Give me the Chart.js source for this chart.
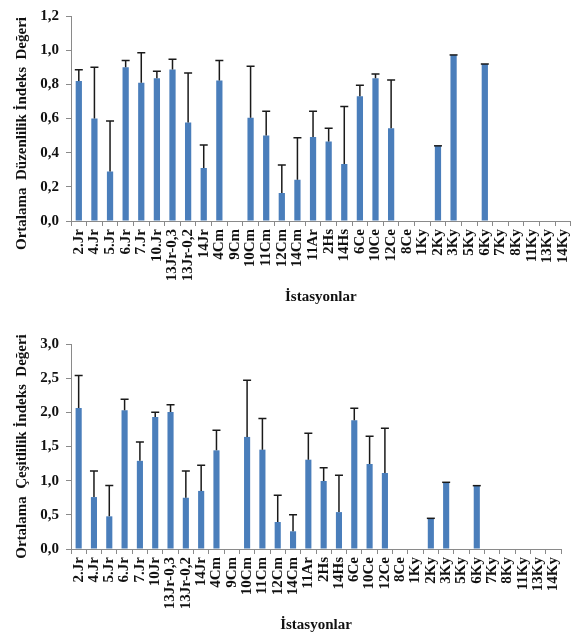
<!DOCTYPE html>
<html lang="tr">
<head>
    <meta charset="UTF-8">
    <title>Düzenlilik ve Çeşitlilik İndeksleri</title>
    <script src="https://cdn.jsdelivr.net/npm/chart.js"></script>
    <style>
        body { margin: 0; background: #fff; }
        .box { position: absolute; left: 0; width: 584px; }
        #topBox { top: 0; height: 306px; }
        #bottomBox { top: 318px; height: 316px; }
    </style>
</head>
<body>
    <div id="topBox" class="box"><canvas id="evennessChart"></canvas></div>
    <div id="bottomBox" class="box"><canvas id="diversityChart"></canvas></div>

    <script>
        // Stations (x categories)
        const stationsTop = ['2.Jr', '4.Jr', '5.Jr', '6.Jr', '7.Jr', '10.Jr', '13Jr-0,3', '13Jr-0,2', '14Jr', '4Cm', '9Cm',
            '10Cm', '11Cm', '12Cm', '14Cm', '11Ar', '2Hs', '14Hs', '6Ce', '10Ce', '12Ce', '8Ce',
            '1Ky', '2Ky', '3Ky', '5Ky', '6Ky', '7Ky', '8Ky', '11Ky', '13Ky', '14Ky'];
        const stationsBottom = ['2.Jr', '4.Jr', '5.Jr', '6.Jr', '7.Jr', '10Jr', '13Jr-0,3', '13Jr-0,2', '14Jr', '4Cm', '9Cm',
            '10Cm', '11Cm', '12Cm', '14Cm', '11Ar', '2Hs', '14Hs', '6Ce', '10Ce', '12Ce', '8Ce',
            '1Ky', '2Ky', '3Ky', '5Ky', '6Ky', '7Ky', '8Ky', '11Ky', '13Ky', '14Ky'];

        // Mean evenness index + standard deviation
        const evenness = [0.82, 0.60, 0.29, 0.90, 0.81, 0.835, 0.887, 0.577, 0.31, 0.823, 0,
            0.604, 0.50, 0.164, 0.242, 0.492, 0.466, 0.334, 0.73, 0.836, 0.543, 0,
            0, 0.44, 0.972, 0, 0.919, 0, 0, 0, 0, 0];
        const evennessSd = [0.065, 0.30, 0.295, 0.04, 0.175, 0.042, 0.06, 0.289, 0.135, 0.117, 0,
            0.302, 0.142, 0.164, 0.245, 0.151, 0.077, 0.336, 0.064, 0.024, 0.283, 0,
            0, 0, 0, 0, 0, 0, 0, 0, 0, 0];

        // Mean diversity index + standard deviation
        const diversity = [2.063, 0.76, 0.478, 2.03, 1.29, 1.93, 2.005, 0.75, 0.85, 1.444, 0,
            1.64, 1.454, 0.395, 0.259, 1.307, 0.995, 0.54, 1.883, 1.244, 1.112, 0,
            0, 0.449, 0.976, 0, 0.927, 0, 0, 0, 0, 0];
        const diversitySd = [0.477, 0.38, 0.452, 0.16, 0.276, 0.07, 0.105, 0.39, 0.374, 0.293, 0,
            0.83, 0.456, 0.39, 0.241, 0.386, 0.195, 0.538, 0.177, 0.405, 0.654, 0,
            0, 0, 0, 0, 0, 0, 0, 0, 0, 0];

        const barColor = '#4a7ebb';
        const axisColor = '#8a8a8a';
        const serif = { family: "'Liberation Serif', 'Times New Roman', serif", weight: 'bold', size: 15 };

        // draws the vertical error line + cap on top of each bar
        const errorBars = {
            id: 'errorBars',
            afterDatasetsDraw(chart, args, opts) {
                const ctx = chart.ctx;
                const yScale = chart.scales.y;
                const meta = chart.getDatasetMeta(0);
                ctx.save();
                ctx.strokeStyle = '#1a1a1a';
                ctx.lineWidth = 1.5;
                opts.values.forEach((v, i) => {
                    if (!v) return;
                    const px = meta.data[i].x;
                    const yTop = yScale.getPixelForValue(v + (opts.sd[i] || 0));
                    const yBar = yScale.getPixelForValue(v);
                    ctx.beginPath();
                    ctx.moveTo(px, yBar);
                    ctx.lineTo(px, yTop);
                    ctx.moveTo(px - 4, yTop);
                    ctx.lineTo(px + 4, yTop);
                    ctx.stroke();
                });
                ctx.restore();
            }
        };

        function makeChart(canvasId, labels, values, sd, yMax, step, yTitle, pad) {
            return new Chart(document.getElementById(canvasId), {
                type: 'bar',
                data: {
                    labels: labels,
                    datasets: [{
                        data: values,
                        backgroundColor: barColor,
                        borderWidth: 0,
                        barPercentage: 0.4,
                        categoryPercentage: 1.0
                    }]
                },
                options: {
                    responsive: true,
                    maintainAspectRatio: false,
                    animation: false,
                    layout: { padding: { top: pad.top, right: pad.right, left: 0, bottom: 0 } },
                    plugins: {
                        legend: { display: false },
                        tooltip: { enabled: false },
                        errorBars: { values: values, sd: sd }
                    },
                    scales: {
                        x: {
                            afterFit(scale) { scale.height = 85; },
                            grid: { drawOnChartArea: false, offset: true, tickLength: 5, color: axisColor },
                            border: { color: axisColor },
                            ticks: {
                                autoSkip: false, maxRotation: 90, minRotation: 90, padding: 3,
                                color: '#111', font: serif
                            },
                            title: {
                                display: true, text: 'İstasyonlar', color: '#111',
                                font: serif, padding: { top: 0, bottom: 0 }
                            }
                        },
                        y: {
                            min: 0, max: yMax,
                            afterFit(scale) { scale.width = 71; },
                            grid: { drawOnChartArea: false, tickLength: 5, color: axisColor },
                            border: { color: axisColor },
                            ticks: {
                                stepSize: step, padding: 7, color: '#111', font: serif,
                                callback: v => v.toFixed(1).replace('.', ',')
                            },
                            title: {
                                display: true, text: yTitle, color: '#111',
                                font: serif, padding: { top: 13, bottom: 0 }
                            }
                        }
                    }
                },
                plugins: [errorBars]
            });
        }

        // trailing spaces push the rotated top title a little lower, as in the original
        makeChart('evennessChart', stationsTop, evenness, evennessSd, 1.2, 0.2,
            'Ortalama  Düzenlilik İndeks  Değeri        ', { top: 9, right: 7 });
        makeChart('diversityChart', stationsBottom, diversity, diversitySd, 3.0, 0.5,
            'Ortalama  Çeşitlilik İndeks  Değeri', { top: 26, right: 23 });
    </script>
</body>
</html>
